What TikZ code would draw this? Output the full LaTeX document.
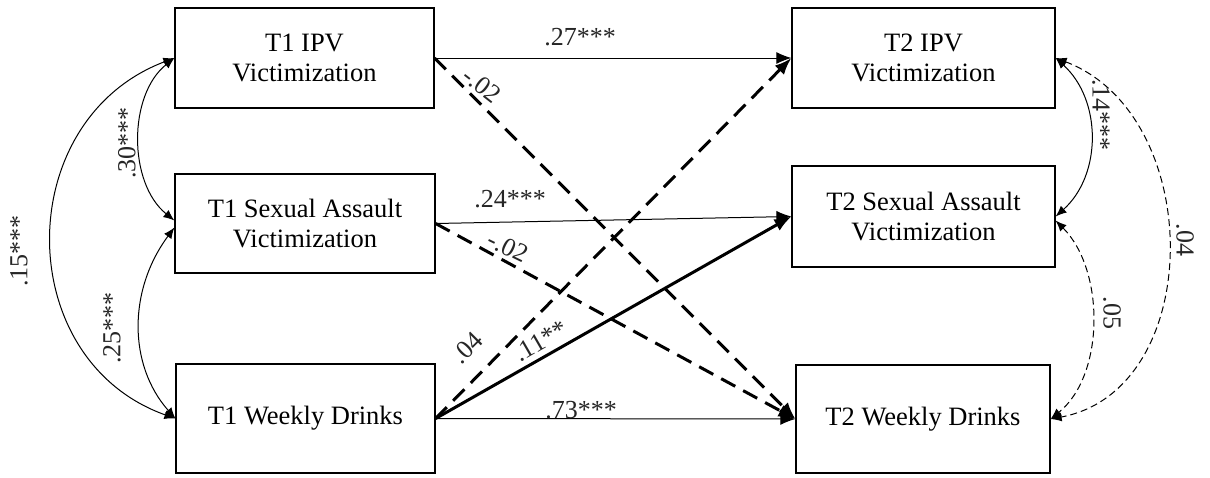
\documentclass[tikz,border=0pt]{standalone}
\usepackage{fontspec}
\setmainfont{Liberation Serif}
\usetikzlibrary{arrows.meta}
\begin{document}
\begin{tikzpicture}[x=1pt,y=-1pt,
  box/.style={draw, line width=1.2pt, align=center, inner sep=0pt, font=\fontsize{26.5}{30}\selectfont},
  lbl/.style={font=\fontsize{26}{28}\selectfont, inner sep=0pt, text=black!85},
  regpath/.style={line width=1pt, -{Latex[length=15pt,width=12pt]}},
  boldpath/.style={line width=3pt, -{Latex[length=17pt,width=13pt]}},
  bolddash/.style={boldpath, dash pattern=on 16pt off 9pt},
  cov/.style={line width=1pt, {Latex[length=11pt,width=9pt]}-{Latex[length=11pt,width=9pt]}},
  covdash/.style={cov, dash pattern=on 7pt off 4pt}
]
\useasboundingbox (0,0) rectangle (1210,477);

% boxes
\node[box, minimum width=259pt, minimum height=100pt] (a1) at (304.5,58) {T1 IPV\\Victimization};
\node[box, minimum width=260pt, minimum height=99pt] (a2) at (305,223.5) {T1 Sexual Assault\\Victimization};
\node[box, minimum width=259pt, minimum height=109pt] (a3) at (305.5,418.5) {T1 Weekly Drinks};
\node[box, minimum width=263pt, minimum height=100pt] (b1) at (923.5,58) {T2 IPV\\Victimization};
\node[box, minimum width=263pt, minimum height=101pt] (b2) at (923.5,216.5) {T2 Sexual Assault\\Victimization};
\node[box, minimum width=254pt, minimum height=108pt] (b3) at (923,419) {T2 Weekly Drinks};

% horizontal paths
\draw[regpath] (a1.east) -- (b1.west);
\draw[regpath] (a2.east) -- (b2.west);
\draw[regpath] (a3.east) -- (b3.west);

% cross-lagged paths
\draw[bolddash] (a1.east) -- (b3.west);
\draw[bolddash] (a2.east) -- (b3.west);
\draw[bolddash] (a3.east) -- (b1.west);
\draw[boldpath] (a3.east) -- (b2.west);

% left covariances
\draw[cov] (a1.west) .. controls (128,95) and (128,183) .. ([yshift=3pt]a2.west);
\draw[cov] ([yshift=-4pt]a2.west) .. controls (128,290) and (128,365) .. (a3.west);
\draw[cov] (a1.west) .. controls (11,120) and (11,360) .. (a3.west);

% right covariances
\draw[cov] (b1.east) .. controls (1102,100) and (1102,175) .. (b2.east);
\draw[covdash] ([yshift=-4pt]b2.east) .. controls (1105,270) and (1105,375) .. (b3.east);
\draw[covdash] (b1.east) .. controls (1206,115) and (1206,390) .. (b3.east);

% labels
\node[lbl] (l27) at (580,37) {.27***};
\node[lbl] (l24) at (510,199) {.24***};
\node[lbl] (l73) at (581,410) {.73***};
\node[lbl, rotate=-38] (l02a) at (482,85) {-.02};
\node[lbl, rotate=-26] (l02b) at (508,247) {-.02};
\node[lbl, rotate=45] (l04a) at (467,348) {.04};
\node[lbl, rotate=30] (l11) at (541,341) {.11**};
\node[lbl, rotate=90] (l30) at (127,143) {.30***};
\node[lbl, rotate=90] (l25) at (112,328) {.25***};
\node[lbl, rotate=90] (l15) at (19,251) {.15***};
\node[lbl, rotate=-90] (l14) at (1101,115) {.14***};
\node[lbl, rotate=-90] (l05) at (1112,313) {.05};
\node[lbl, rotate=-90] (l04b) at (1185,240) {.04};
\end{tikzpicture}
\end{document}
